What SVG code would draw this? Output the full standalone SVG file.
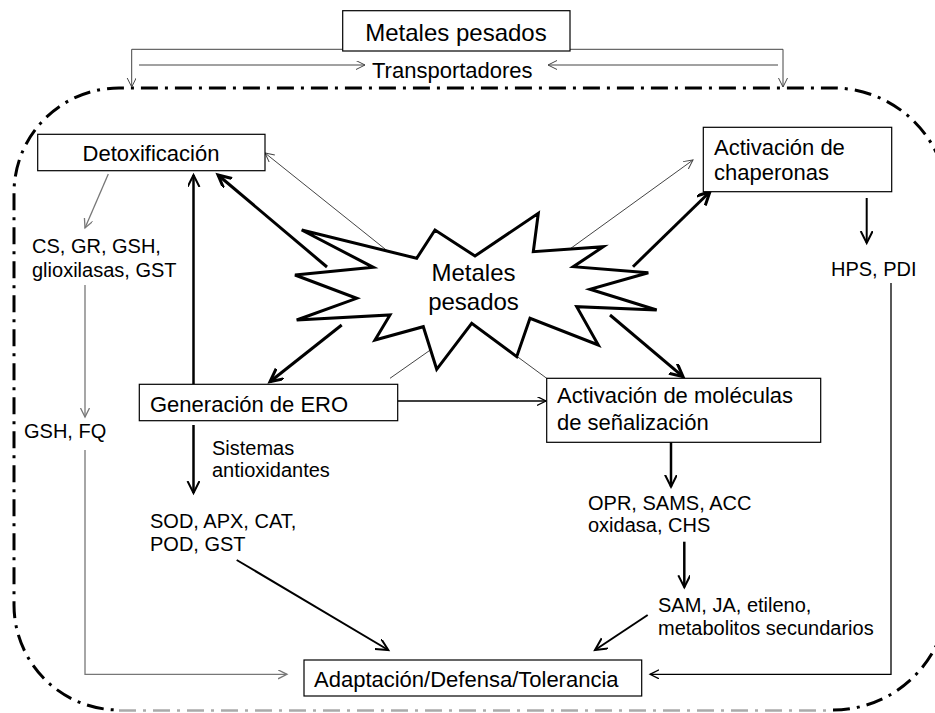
<svg xmlns="http://www.w3.org/2000/svg" width="935" height="713" viewBox="0 0 935 713">
<style>
text{font-family:"Liberation Sans",Arial,sans-serif;fill:#000}
.lbl{font-size:22px}
.big{font-size:24px}
.sm{font-size:20px}
.box{fill:#fff;stroke:#000;stroke-width:1.2}
.thin{fill:none;stroke:#444;stroke-width:1}
.grey{fill:none;stroke:#777;stroke-width:1.3}
.blk{fill:none;stroke:#000;stroke-width:1.3}
.med{fill:none;stroke:#000;stroke-width:2}
.thick{fill:none;stroke:#000;stroke-width:3}
.vert{fill:none;stroke:#000;stroke-width:2.5}
.border{fill:none;stroke:#000;stroke-width:3;stroke-dasharray:17 7 3 7}
</style>
<defs>
<marker id="aThin" markerUnits="userSpaceOnUse" markerWidth="12" markerHeight="12" refX="9" refY="4.5" orient="auto"><path d="M0,0 L9,4.5 L0,9" fill="none" stroke="#444" stroke-width="1"/></marker>
<marker id="aGrey" markerUnits="userSpaceOnUse" markerWidth="12" markerHeight="12" refX="9" refY="4.5" orient="auto"><path d="M0,0 L9,4.5 L0,9" fill="none" stroke="#777" stroke-width="1.3"/></marker>
<marker id="aBlk" markerUnits="userSpaceOnUse" markerWidth="12" markerHeight="12" refX="9" refY="4.5" orient="auto"><path d="M0,0 L9,4.5 L0,9" fill="none" stroke="#000" stroke-width="1.3"/></marker>
<marker id="aMed" markerUnits="userSpaceOnUse" markerWidth="16" markerHeight="16" refX="12" refY="6" orient="auto"><path d="M0,0 L12,6 L0,12" fill="none" stroke="#000" stroke-width="2"/></marker>
<marker id="aThick" markerUnits="userSpaceOnUse" markerWidth="18" markerHeight="18" refX="13" refY="6.5" orient="auto"><path d="M0,0 L13,6.5 L0,13" fill="none" stroke="#000" stroke-width="3"/></marker>
</defs>

<g id="border">
<path class="border" d="M833,710 A115,115 0 0 0 948,595 L948,203 A115,115 0 0 0 833,88 L119,88 A105,105 0 0 0 14,193 L14,605 A105,105 0 0 0 119,710"/>
<line x1="119" y1="710.5" x2="833" y2="710.5" stroke="#aaa" stroke-width="2.5" stroke-dasharray="17 7 3 7"/>
</g>

<g id="connectors">
<polyline class="thin" points="343,49.3 131.7,49.3 131.7,87" marker-end="url(#aThin)"/>
<polyline class="thin" points="570,49.3 783,49.3 783,87" marker-end="url(#aThin)"/>
<line class="thin" x1="139" y1="65" x2="365" y2="65" marker-end="url(#aThin)"/>
<line class="thin" x1="778" y1="65" x2="548" y2="65" marker-end="url(#aThin)"/>

<line class="grey" x1="108.3" y1="174" x2="85" y2="228" marker-end="url(#aGrey)"/>
<line class="grey" x1="85" y1="285" x2="85" y2="417" marker-end="url(#aGrey)"/>
<polyline class="grey" points="85,450 85,674.3 287,674.3" marker-end="url(#aGrey)"/>
<polyline class="blk" points="891,283 891,674.3 650,674.3" marker-end="url(#aBlk)"/>

<line class="thin" x1="395" y1="257" x2="265" y2="153" marker-end="url(#aThin)"/>
<line class="thin" x1="565" y1="252.5" x2="693" y2="160" marker-end="url(#aThin)"/>
<line class="thin" x1="390" y1="378.3" x2="436" y2="346"/>
<line class="thin" x1="511" y1="352" x2="546.7" y2="378.3"/>
<line class="blk" x1="397.7" y1="401" x2="546" y2="401" marker-end="url(#aBlk)"/>

<line class="thick" x1="327" y1="267" x2="218" y2="175" marker-end="url(#aThick)"/>
<line class="thick" x1="341.7" y1="325" x2="270" y2="381.7" marker-end="url(#aThick)"/>
<line class="thick" x1="633" y1="266.7" x2="710" y2="191.7" marker-end="url(#aThick)"/>
<line class="thick" x1="610" y1="315" x2="683" y2="376.7" marker-end="url(#aThick)"/>

<line class="vert" x1="193.5" y1="384" x2="193.5" y2="175" marker-end="url(#aMed)"/>
<line class="vert" x1="193.5" y1="425" x2="193.5" y2="493" marker-end="url(#aMed)"/>
<line class="med" x1="866.7" y1="198" x2="866.7" y2="243" marker-end="url(#aMed)"/>
<line class="vert" x1="671" y1="442" x2="671" y2="486.7" marker-end="url(#aMed)"/>
<line class="vert" x1="684.3" y1="541.7" x2="684.3" y2="587.3" marker-end="url(#aMed)"/>
<line class="med" x1="236.7" y1="560" x2="388.3" y2="650" marker-end="url(#aMed)"/>
<line class="med" x1="647.7" y1="615" x2="595" y2="650" marker-end="url(#aMed)"/>
</g>

<g id="star">
<polygon points="301.7,230 416.7,258.3 435,230 475,256 538.3,213.3 533.3,251.7 603.3,246.7 573.3,266.7 648.3,272.7 590,289.3 656.7,310 576.7,306.7 598.3,345 530,318.3 516.7,356.7 471.7,323.3 436.7,369.3 423.3,326.7 375,340 390,315 296.7,320 356.7,298.3 295,275 373.3,267.3" fill="#fff" stroke="#000" stroke-width="3" stroke-linejoin="miter"/>
<text class="big" x="473.5" y="280.5" text-anchor="middle">Metales</text>
<text class="big" x="473.5" y="310" text-anchor="middle">pesados</text>
</g>

<g id="top-metales">
<rect class="box" x="342.7" y="10.7" width="227.3" height="40.3"/>
<text class="big" x="456" y="40.5" text-anchor="middle">Metales pesados</text>
</g>
<g id="transportadores">
<text class="lbl" x="372" y="78">Transportadores</text>
</g>

<g id="detox">
<rect class="box" x="37.7" y="134.3" width="227.3" height="36.4"/>
<text class="lbl" x="151" y="161" text-anchor="middle">Detoxificación</text>
</g>
<g id="chaperonas">
<rect class="box" x="703.3" y="127.3" width="188.4" height="64.4"/>
<text class="lbl" x="714" y="155">Activación de</text>
<text class="lbl" x="714" y="180">chaperonas</text>
</g>
<g id="generacion">
<rect class="box" x="139.3" y="384.3" width="258.4" height="36.4"/>
<text class="lbl" x="150" y="412">Generación de ERO</text>
</g>
<g id="moleculas">
<rect class="box" x="546.7" y="378.3" width="274" height="64"/>
<text class="lbl" x="557" y="403">Activación de moléculas</text>
<text class="lbl" x="557" y="430">de señalización</text>
</g>
<g id="adaptacion">
<rect class="box" x="304" y="660" width="337.7" height="36"/>
<text class="lbl" x="314" y="687">Adaptación/Defensa/Tolerancia</text>
</g>

<g id="cs-gr">
<text class="sm" x="32" y="253">CS, GR, GSH,</text>
<text class="sm" x="32" y="277">glioxilasas, GST</text>
</g>
<g id="gsh-fq"><text class="sm" x="24" y="438">GSH, FQ</text></g>
<g id="sistemas">
<text class="sm" x="212" y="455">Sistemas</text>
<text class="sm" x="212" y="477">antioxidantes</text>
</g>
<g id="sod">
<text class="sm" x="150" y="528">SOD, APX, CAT,</text>
<text class="sm" x="150" y="551">POD, GST</text>
</g>
<g id="opr">
<text class="sm" x="588" y="510">OPR, SAMS, ACC</text>
<text class="sm" x="588" y="532">oxidasa, CHS</text>
</g>
<g id="sam">
<text class="sm" x="658" y="612">SAM, JA, etileno,</text>
<text class="sm" x="658" y="635">metabolitos secundarios</text>
</g>
<g id="hps"><text class="sm" x="831" y="276">HPS, PDI</text></g>
</svg>
